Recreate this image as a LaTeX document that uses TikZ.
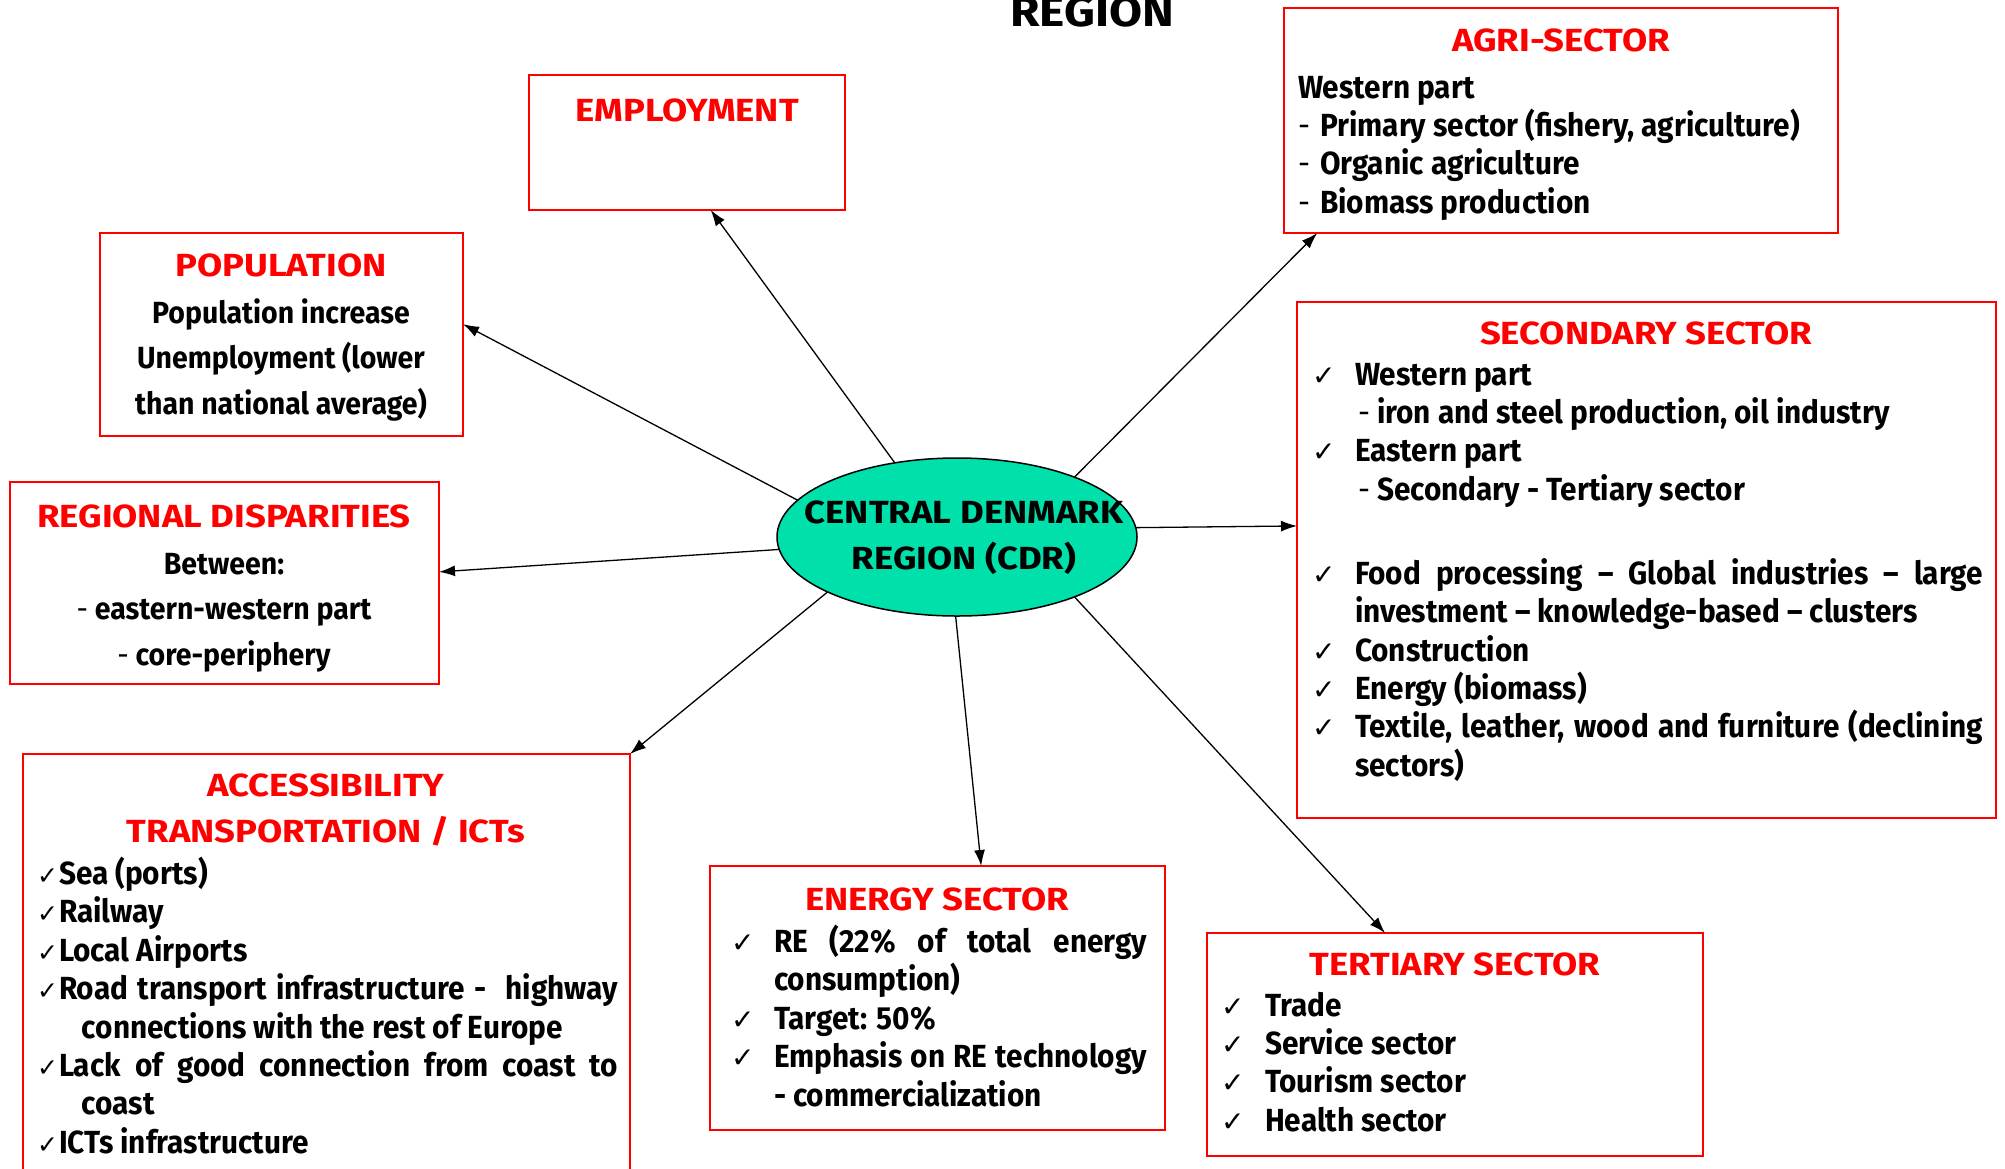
\documentclass[tikz,border=0pt]{standalone}
\usepackage{fontspec}
\setmainfont{Fira Sans}[FakeStretch=0.93]
\newfontfamily\capsfont{Fira Sans}[FakeStretch=1.14]
\newfontfamily\symfont{DejaVu Sans}
\usetikzlibrary{arrows.meta,calc,shapes.geometric}
\definecolor{boxred}{RGB}{255,0,0}
\definecolor{cdrgreen}{RGB}{0,224,170}
% check mark and small dash used as bullets
\newcommand\chk{{\symfont\mdseries\fontsize{14}{14}\selectfont ✓}}
\newcommand\schk{{\symfont\mdseries\fontsize{12.5}{12}\selectfont ✓}}
\newcommand\sdash{{\mdseries -}}
\newcommand\fl{\rule{0pt}{13pt}}
\begin{document}
\begin{tikzpicture}[x=0.5pt,y=-0.5pt,
  every node/.style={inner sep=0pt,outer sep=0pt},
  frame/.style={draw=boxred,line width=1pt,rectangle,anchor=north west},
  ttl/.style={text=boxred,font=\capsfont\bfseries\fontsize{16}{19.2}\selectfont,anchor=base},
  body/.style={font=\bfseries\fontsize{16}{19.2}\selectfont,align=left,anchor=north west},
  cbody/.style={font=\bfseries\fontsize{15.3}{22.75}\selectfont,align=center,anchor=north},
  arr/.style={line width=0.65pt,-{Latex[length=8pt,width=5.5pt]}}
]
\useasboundingbox (0,0) rectangle (2005,1168);
\clip (0,0) rectangle (2005,1168);

% heading
\node[anchor=base,font=\capsfont\bfseries\fontsize{21}{24}\selectfont] (head) at (1092,26) {REGION};

% central ellipse
\node[ellipse,draw=black,line width=0.75pt,fill=cdrgreen,minimum width=180pt,minimum height=79pt] (cdr) at (957,537) {};
\node[font=\capsfont\bfseries\fontsize{16}{23}\selectfont,align=center,anchor=north] (cdrtext) at (964,497) {\fl CENTRAL DENMARK\\REGION (CDR)};

% employment
\node[frame,minimum width=158pt,minimum height=67.5pt] (emp) at (529,75) {};
\node[ttl] (empt) at (687,121) {EMPLOYMENT};

% population
\node[frame,minimum width=181.5pt,minimum height=101.5pt] (pop) at (100,233) {};
\node[ttl] (popt) at (281,276) {POPULATION};
\node[cbody] (popb) at (281,297) {\fl Population increase\\Unemployment (lower\\than national average)};

% regional disparities
\node[frame,minimum width=214.5pt,minimum height=101pt] (reg) at (10,482) {};
\node[ttl] (regt) at (224,527) {REGIONAL DISPARITIES};
\node[cbody] (regb) at (224,548) {\fl Between:\\\sdash\ eastern-western part\\\sdash\ core-periphery};

% accessibility
\node[frame,minimum width=303.5pt,minimum height=225pt] (acc) at (23,754) {};
\node[ttl] (acct1) at (326,796) {ACCESSIBILITY};
\node[ttl] (acct2) at (326,842) {TRANSPORTATION / ICTs};
\node[body] (accb) at (37,857) {\fl\makebox[11pt][l]{\schk}Sea (ports)\\
\makebox[11pt][l]{\schk}Railway\\
\makebox[11pt][l]{\schk}Local Airports\\
\makebox[11pt][l]{\schk}\makebox[279.5pt][s]{Road transport infrastructure - \ highway}\\
\hspace*{22.5pt}connections with the rest of Europe\\
\makebox[11pt][l]{\schk}\makebox[279.5pt][s]{Lack of good connection from coast to}\\
\hspace*{22.5pt}coast\\
\makebox[11pt][l]{\schk}ICTs infrastructure};

% energy sector
\node[frame,minimum width=227.5pt,minimum height=132pt] (ene) at (710,866) {};
\node[ttl] (enet) at (937,910) {ENERGY SECTOR};
\node[body] (eneb) at (731,925) {\fl\makebox[21.5pt][l]{\chk}\makebox[186.5pt][s]{RE (22\% of total energy}\\
\hspace*{21.5pt}consumption)\\
\makebox[21.5pt][l]{\chk}Target: 50\%\\
\makebox[21.5pt][l]{\chk}\makebox[186.5pt][s]{Emphasis on RE technology}\\
\hspace*{21.5pt}- commercialization};

% tertiary sector
\node[frame,minimum width=248pt,minimum height=111.5pt] (ter) at (1207,933) {};
\node[ttl] (tert) at (1455,975) {TERTIARY SECTOR};
\node[body] (terb) at (1221,990) {\fl\makebox[22pt][l]{\chk}Trade\\
\makebox[22pt][l]{\chk}Service sector\\
\makebox[22pt][l]{\chk}Tourism sector\\
\makebox[22pt][l]{\chk}Health sector};

% secondary sector
\node[frame,minimum width=349.5pt,minimum height=258pt] (sec) at (1297,302) {};
\node[ttl] (sect) at (1646,344) {SECONDARY SECTOR};
\node[body] (secb) at (1312,359) {\fl\makebox[21.5pt][l]{\chk}Western part\\
\hspace*{23pt}\makebox[9.5pt][l]{\sdash}iron and steel production, oil industry\\
\makebox[21.5pt][l]{\chk}Eastern part\\
\hspace*{23pt}\makebox[9.5pt][l]{\sdash}Secondary - Tertiary sector\\[22.8pt]
\makebox[21.5pt][l]{\chk}\makebox[314pt][s]{Food processing – Global industries – large}\\
\hspace*{21.5pt}investment – knowledge-based – clusters\\
\makebox[21.5pt][l]{\chk}Construction\\
\makebox[21.5pt][l]{\chk}Energy (biomass)\\
\makebox[21.5pt][l]{\chk}\makebox[314pt][s]{Textile, leather, wood and furniture (declining}\\
\hspace*{21.5pt}sectors)};

% agri-sector
\node[frame,minimum width=277pt,minimum height=112.5pt] (agri) at (1284,8) {};
\node[ttl] (agrit) at (1561,51) {AGRI-SECTOR};
\node[body] (agrib) at (1298,72) {\fl Western part\\
\makebox[11pt][l]{\sdash}Primary sector (fishery, agriculture)\\
\makebox[11pt][l]{\sdash}Organic agriculture\\
\makebox[11pt][l]{\sdash}Biomass production};

% connectors from the region to each theme
\draw[arr] (cdr.130.3) -- ($(emp.south west)!0.575!(emp.south east)$);
\draw[arr] (cdr.167.9) -- ($(pop.north east)!0.449!(pop.south east)$);
\draw[arr] (cdr.184.1) -- ($(reg.north east)!0.445!(reg.south east)$);
\draw[arr] (cdr.203.3) -- (acc.north east);
\draw[arr] (cdr.269.3) -- ($(ene.north west)!0.596!(ene.north east)$);
\draw[arr] (cdr.333.2) -- ($(ter.north west)!0.359!(ter.north east)$);
\draw[arr] (cdr.3.5) -- ($(sec.north west)!0.434!(sec.south west)$);
\draw[arr] (cdr.27.2) -- ($(agri.south west)!0.060!(agri.south east)$);
\end{tikzpicture}
\end{document}
